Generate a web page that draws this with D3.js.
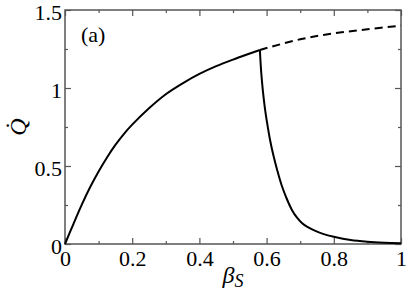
<!DOCTYPE html>
<html>
<head>
<meta charset="utf-8">
<script src="https://cdn.jsdelivr.net/npm/d3@7"></script>
<style>
  body { margin: 0; background: #fff; }
  svg text { font-family: "Liberation Serif", Tinos, "Nimbus Roman", FreeSerif, "Noto Serif", "DejaVu Serif", "Times New Roman", Times, serif; }
</style>
</head>
<body>
<div id="chart"></div>
<script>
// rising branch (solid), up to the bifurcation point
var riseX = [0, 0.025, 0.05, 0.075, 0.1, 0.125, 0.15, 0.175, 0.2, 0.25, 0.3, 0.35, 0.4, 0.45, 0.5, 0.55, 0.58];
var riseQ = [0, 0.128, 0.252, 0.365, 0.465, 0.555, 0.635, 0.705, 0.765, 0.87, 0.96, 1.03, 1.09, 1.14, 1.182, 1.221, 1.244];
// continuation (dashed)
var dashX = [0.58, 0.7, 0.8, 0.9, 1.0];
var dashQ = [1.244, 1.312, 1.35, 1.376, 1.40];
// dropping branch (solid)
var dropX = [0.58, 0.584, 0.589, 0.595, 0.602, 0.61, 0.62, 0.632, 0.645, 0.66, 0.675, 0.69, 0.705, 0.72, 0.74, 0.77, 0.8, 0.85, 0.9, 0.95, 1.0];
var dropQ = [1.244, 1.1, 0.98, 0.87, 0.77, 0.67, 0.57, 0.47, 0.375, 0.29, 0.22, 0.17, 0.135, 0.111, 0.089, 0.063, 0.046, 0.025, 0.014, 0.008, 0.005];

var xTicks = [0, 0.2, 0.4, 0.6, 0.8, 1];
var xMinor = [0.1, 0.3, 0.5, 0.7, 0.9];
var yTicks = [0, 0.5, 1, 1.5];
var yMinor = [0.25, 0.75, 1.25];

var W = 407, H = 296;
var m = {left: 65, right: 6, top: 10, bottom: 52};

var svg = d3.select("#chart").append("svg")
    .attr("width", W).attr("height", H);

var x = d3.scaleLinear().domain([0, 1]).range([m.left, W - m.right]);
var y = d3.scaleLinear().domain([0, 1.5]).range([H - m.bottom, m.top]);

var fmt = function(d){ return String(d); };
var axisCol = "#555";

// bottom
svg.append("g").attr("class", "ax").attr("transform", "translate(0," + y(0) + ")")
    .call(d3.axisBottom(x).tickValues(xTicks).tickFormat(fmt).tickSizeInner(-6).tickSizeOuter(0).tickPadding(6));
svg.append("g").attr("class", "ax").attr("transform", "translate(0," + y(0) + ")")
    .call(d3.axisBottom(x).tickValues(xMinor).tickFormat("").tickSizeInner(-3).tickSizeOuter(0));
// top
svg.append("g").attr("class", "ax").attr("transform", "translate(0," + y(1.5) + ")")
    .call(d3.axisTop(x).tickValues(xTicks).tickFormat("").tickSizeInner(-6).tickSizeOuter(0));
svg.append("g").attr("class", "ax").attr("transform", "translate(0," + y(1.5) + ")")
    .call(d3.axisTop(x).tickValues(xMinor).tickFormat("").tickSizeInner(-3).tickSizeOuter(0));
// left
var gy = svg.append("g").attr("class", "ax").attr("transform", "translate(" + x(0) + ",0)")
    .call(d3.axisLeft(y).tickValues(yTicks).tickFormat(fmt).tickSizeInner(-6).tickSizeOuter(0).tickPadding(3));
gy.selectAll(".tick text").attr("dy", "0.45em");
svg.append("g").attr("class", "ax").attr("transform", "translate(" + x(0) + ",0)")
    .call(d3.axisLeft(y).tickValues(yMinor).tickFormat("").tickSizeInner(-3).tickSizeOuter(0));
// right
svg.append("g").attr("class", "ax").attr("transform", "translate(" + x(1) + ",0)")
    .call(d3.axisRight(y).tickValues(yTicks).tickFormat("").tickSizeInner(-6).tickSizeOuter(0));
svg.append("g").attr("class", "ax").attr("transform", "translate(" + x(1) + ",0)")
    .call(d3.axisRight(y).tickValues(yMinor).tickFormat("").tickSizeInner(-3).tickSizeOuter(0));

svg.selectAll("g.ax").attr("font-family", null);
svg.selectAll(".domain").remove();
svg.selectAll(".tick line").attr("stroke", axisCol).attr("stroke-width", 1.2);
svg.selectAll(".tick text").attr("fill", "#000").attr("font-size", 22);

// frame
svg.append("rect")
    .attr("x", x(0)).attr("y", y(1.5))
    .attr("width", x(1) - x(0)).attr("height", y(0) - y(1.5))
    .attr("fill", "none").attr("stroke", axisCol).attr("stroke-width", 1.5);

var line = d3.line()
    .x(function(d){ return x(d[0]); })
    .y(function(d){ return y(d[1]); })
    .curve(d3.curveCatmullRom.alpha(0.5));

var plot = svg.append("g").attr("fill", "none").attr("stroke", "#000").attr("stroke-width", 2);
plot.append("path").datum(d3.zip(riseX, riseQ)).attr("d", line);
plot.append("path").datum(d3.zip(dashX, dashQ)).attr("d", line)
    .attr("stroke-dasharray", "8,5");
plot.append("path").datum(d3.zip(dropX, dropQ)).attr("d", line);

// panel label
svg.append("text").attr("x", 81).attr("y", 42).attr("font-size", 22).text("(a)");

// y label  Q-dot
svg.append("text")
    .attr("transform", "translate(26," + ((y(0) + y(1.5)) / 2) + ") rotate(-90)")
    .attr("text-anchor", "middle").attr("font-size", 24).attr("font-style", "italic")
    .text("Q\u0307");

// x label  beta_S
var xl = svg.append("text")
    .attr("x", (x(0) + x(1)) / 2).attr("y", 283)
    .attr("text-anchor", "middle").attr("font-size", 24).attr("font-style", "italic");
xl.append("tspan").text("\u03b2");
xl.append("tspan").attr("font-size", 18).attr("dy", 4).text("S");
</script>
</body>
</html>
